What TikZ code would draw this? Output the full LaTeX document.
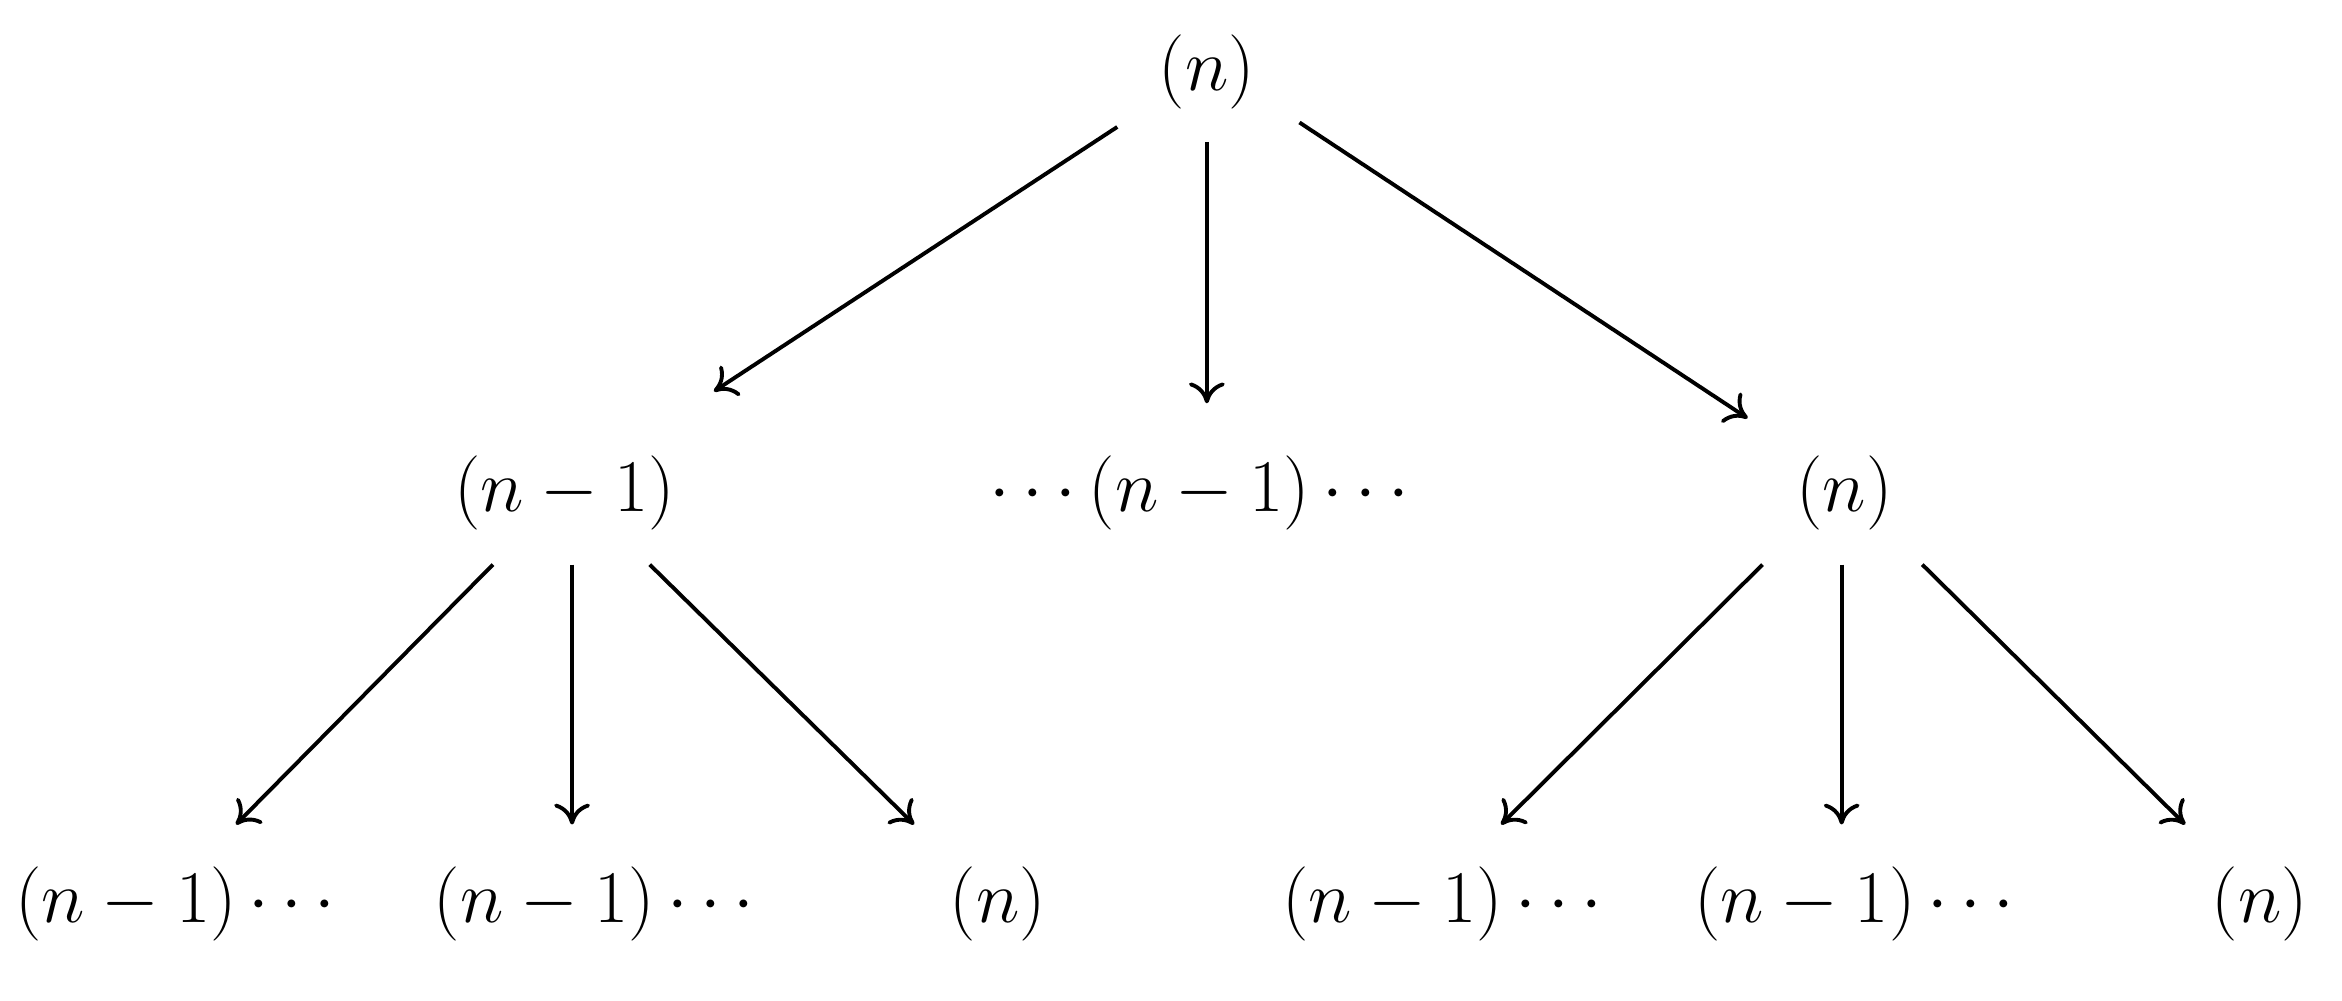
\documentclass[tikz,border=0pt]{standalone}
\usetikzlibrary{arrows.meta}
\begin{document}
\begin{tikzpicture}[x=0.5pt,y=-0.5pt,
  lbl/.style={inner sep=0pt,font=\fontsize{42}{50}\selectfont},
  arr/.style={-{To[length=7pt,width=12pt]},line width=1.3pt}]
\useasboundingbox (0,0) rectangle (1568,670);
\node[lbl] (top) at (808,48) {$(n)$};
\node[lbl] (L) at (378,330) {$(n-1)$};
\node[lbl] (M) at (803,330) {$\cdots(n-1)\cdots$};
\node[lbl] (R) at (1235,330) {$(n)$};
\node[lbl,anchor=west] (b1) at (10,605) {$(n-1)\cdots$};
\node[lbl,anchor=west] (b2) at (290,605) {$(n-1)\cdots$};
\node[lbl] (b3) at (668,605) {$(n)$};
\node[lbl,anchor=west] (b4) at (858,605) {$(n-1)\cdots$};
\node[lbl,anchor=west] (b5) at (1134,605) {$(n-1)\cdots$};
\node[lbl] (b6) at (1513,605) {$(n)$};
\foreach \n/\a/\b in {t1/748/85,t2/808/95,t3/870/82,h1/478/262,h2/808/270,h3/1170/280,
  l1/330/378,l2/383/378,l3/435/378,lh1/158/552,lh2/383/552,lh3/612/552,
  r1/1180/378,r2/1233/378,r3/1287/378,rh1/1005/552,rh2/1233/552,rh3/1463/552}
  \coordinate (\n) at (\a,\b);
\draw[arr] (t1)--(h1); \draw[arr] (t2)--(h2); \draw[arr] (t3)--(h3);
\draw[arr] (l1)--(lh1); \draw[arr] (l2)--(lh2); \draw[arr] (l3)--(lh3);
\draw[arr] (r1)--(rh1); \draw[arr] (r2)--(rh2); \draw[arr] (r3)--(rh3);
\end{tikzpicture}
\end{document}
